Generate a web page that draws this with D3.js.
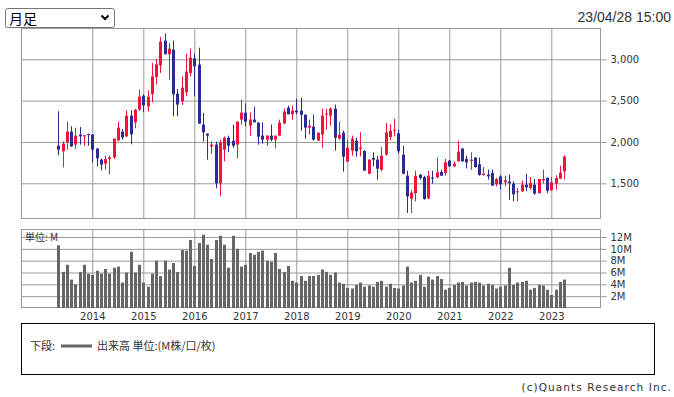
<!DOCTYPE html>
<meta charset="utf-8">

<head>
    <title>月足チャート</title>
    <script type="text/javascript" src="https://cdn.jsdelivr.net/npm/d3@7/dist/d3.min.js"></script>
    <style>
        body { margin: 0; background: #fff; }
        svg { display: block; }
        .num { font-family: "DejaVu Sans", Verdana, sans-serif; font-size: 10px; fill: #333; }
        .jp { font-family: "Noto Sans CJK JP", sans-serif; }
    </style>
</head>

<body>
    <svg id="chart"></svg>

    <script>

        // monthly candles, first one is 2013/05, last one 2023/04
        var firstYear = 2013, firstMonth = 5;

        var open = [
            1955, 1887, 1996, 2125, 1968, 2089, 2068, 2097,
            2089, 1919, 1786, 1738, 1794, 1814, 2020, 2125, 2068, 2318, 2238, 2391,
            2560, 2431, 2577, 2786, 2927, 3226, 3061, 3117, 2585, 2492, 2601, 2835,
            3012, 2936, 2210, 2101, 1947, 1968, 1500, 1907, 2052, 2016, 1968, 2270,
            2355, 2197, 2270, 2234, 2077, 2028, 2077, 2028, 2077, 2222, 2415, 2335,
            2379, 2379, 2331, 2173, 2185, 2016, 2089, 2331, 2318, 2403, 2040, 2113,
            1762, 1895, 2016, 1915, 1891, 1617, 1806, 1786, 1665, 1847, 2060, 2141,
            2105, 1847, 1592, 1314, 1379, 1605, 1576, 1318, 1568, 1572, 1637, 1625,
            1774, 1705, 1766, 1919, 1794, 1770, 1810, 1730, 1600, 1605, 1625, 1488,
            1584, 1512, 1520, 1496, 1395, 1403, 1484, 1443, 1484, 1379, 1536, 1568,
            1415, 1496, 1556, 1645
        ];
        var high = [
            2371, 2008, 2246, 2189, 2173, 2181, 2085, 2100,
            2097, 1927, 1798, 1834, 1834, 2040, 2246, 2157, 2383, 2383, 2399, 2633,
            2577, 2625, 2956, 3004, 3270, 3311, 3198, 3226, 2641, 2794, 3069, 3129,
            3069, 3141, 2351, 2101, 2004, 2004, 2028, 2068, 2077, 2210, 2246, 2512,
            2464, 2355, 2427, 2238, 2238, 2077, 2210, 2077, 2270, 2403, 2440, 2440,
            2524, 2536, 2331, 2270, 2331, 2113, 2403, 2403, 2415, 2452, 2246, 2137,
            2028, 2077, 2052, 2117, 1899, 1794, 1875, 1834, 1939, 2230, 2214, 2282,
            2149, 1955, 1653, 1420, 1653, 1610, 1592, 1653, 1653, 1810, 1665, 1794,
            1786, 1766, 2016, 1927, 1834, 1875, 1818, 1810, 1697, 1665, 1665, 1564,
            1600, 1592, 1605, 1524, 1443, 1532, 1617, 1576, 1552, 1552, 1665, 1568,
            1576, 1597, 1713, 1838
        ];
        var low = [
            1839, 1693, 1907, 1940, 1915, 1968, 1955, 1955,
            1754, 1705, 1657, 1669, 1609, 1794, 2008, 2028, 2060, 1972, 2165, 2375,
            2359, 2367, 2480, 2693, 2835, 3061, 2754, 2310, 2310, 2448, 2552, 2794,
            2552, 2222, 2004, 1786, 1859, 1439, 1343, 1766, 1875, 1931, 1802, 2210,
            2189, 2077, 2238, 1968, 1980, 1955, 2008, 1923, 2077, 2222, 2335, 2270,
            2335, 2137, 2040, 2089, 2016, 2016, 1931, 2149, 2197, 1895, 2028, 1641,
            1762, 1834, 1822, 1826, 1653, 1609, 1705, 1544, 1645, 1834, 2020, 2068,
            1859, 1609, 1141, 1141, 1282, 1544, 1302, 1310, 1496, 1564, 1592, 1592,
            1697, 1697, 1766, 1762, 1681, 1665, 1689, 1592, 1592, 1544, 1472, 1463,
            1423, 1463, 1302, 1282, 1282, 1395, 1403, 1423, 1363, 1379, 1500, 1383,
            1411, 1423, 1552, 1544
        ];
        var close = [
            1907, 1980, 2125, 1947, 2077, 2068, 2081, 2089,
            1907, 1802, 1726, 1794, 1814, 2040, 2173, 2056, 2318, 2093, 2391, 2548,
            2444, 2548, 2794, 2940, 3214, 3061, 3129, 2577, 2452, 2657, 2851, 3020,
            2915, 2222, 2117, 2077, 1968, 1500, 1996, 2052, 1955, 1955, 2246, 2355,
            2246, 2270, 2238, 2064, 2028, 2077, 2028, 2077, 2234, 2367, 2335, 2379,
            2359, 2331, 2173, 2197, 2028, 2113, 2318, 2343, 2403, 2052, 2089, 1822,
            1931, 2040, 1887, 1931, 1653, 1786, 1786, 1677, 1834, 2117, 2137, 2149,
            1887, 1617, 1342, 1387, 1592, 1564, 1310, 1592, 1560, 1633, 1592, 1754,
            1705, 1738, 1883, 1766, 1754, 1786, 1697, 1600, 1617, 1584, 1472, 1552,
            1488, 1536, 1500, 1367, 1403, 1484, 1451, 1504, 1375, 1552, 1552, 1411,
            1512, 1564, 1629, 1822
        ];
        // volume in millions
        var volume = [
            10.6, 6.1, 7.3, 4.8, 4.0, 6.1, 7.3, 5.8,
            5.6, 6.3, 5.8, 6.6, 5.8, 6.8, 7.0, 4.3, 6.0, 9.5, 6.0, 7.3,
            4.3, 3.6, 5.8, 8.0, 5.4, 8.0, 6.5, 7.6, 6.1, 9.8, 9.7, 11.5,
            7.1, 11.0, 12.4, 10.7, 8.3, 11.5, 12.2, 10.7, 6.8, 12.2, 10.0, 7.0,
            7.3, 9.3, 9.0, 9.5, 9.7, 8.0, 7.8, 9.3, 6.6, 6.1, 7.1, 4.6,
            4.3, 5.4, 4.6, 5.4, 5.4, 5.6, 6.5, 6.1, 5.6, 6.0, 4.3, 4.1,
            3.4, 3.3, 3.9, 4.3, 3.6, 3.8, 3.6, 4.4, 4.6, 3.6, 4.1, 3.4,
            3.3, 3.8, 7.0, 4.3, 4.6, 5.6, 3.6, 5.3, 4.8, 5.4, 4.9, 3.1,
            3.4, 3.9, 4.3, 4.4, 3.8, 4.3, 4.4, 4.3, 3.8, 4.1, 3.9, 3.3,
            3.6, 3.8, 6.8, 3.9, 4.3, 4.4, 4.6, 3.1, 3.4, 3.9, 3.8, 3.1,
            2.2, 3.1, 4.4, 4.8
        ];

        var years = [2014, 2015, 2016, 2017, 2018, 2019, 2020, 2021, 2022, 2023];
        var priceTicks = [1500, 2000, 2500, 3000];
        var volumeTicks = [2, 4, 6, 8, 10, 12];

        w = 674;
        h = 397;

        var svg = d3.select("#chart")
            .attr("width", w)
            .attr("height", h);

        // panel boxes
        var left = 21.5, right = 600.5;
        var pTop = 28.5, pBottom = 218.5;
        var vTop = 229.5, vBottom = 307.5;

        // month index counted from 2014/01
        function monthIdx(i) {
            return (firstYear - 2014) * 12 + (firstMonth - 1) + i;
        }

        var x = d3.scaleLinear()
            .domain([0, 108])
            .range([92.3, 551.3]);

        var y = d3.scaleLinear()
            .domain([1500, 3000])
            .range([183.3, 59.3]);

        var yv = d3.scaleLinear()
            .domain([0, 12])
            .range([308, 237]);

        var upColor = "#f0143c";
        var downColor = "#2b2b96";
        var gridColor = "#999999";

        // top bar: period select and timestamp
        svg.append("rect")
            .attr("x", 5.5).attr("y", 8.5)
            .attr("width", 109).attr("height", 19)
            .attr("rx", 2)
            .attr("fill", "#fff")
            .attr("stroke", "#767676");
        svg.append("text")
            .attr("class", "jp")
            .attr("x", 9).attr("y", 23.5)
            .style("font-size", "14px")
            .attr("fill", "#000")
            .text("月足");
        svg.append("path")
            .attr("d", "M101.5,15.5 L105,19 L108.5,15.5")
            .attr("fill", "none")
            .attr("stroke", "#000")
            .attr("stroke-width", 2);

        svg.append("text")
            .attr("x", 671).attr("y", 22)
            .attr("text-anchor", "end")
            .style("font-family", "'Liberation Sans', Arial, sans-serif")
            .style("font-size", "14px")
            .attr("fill", "#333")
            .text("23/04/28 15:00");

        // grids
        function gridLines(g) {
            g.selectAll("line").attr("stroke", gridColor);
            g.select(".domain").remove();
            g.selectAll("text").remove();
        }

        svg.append("g")
            .attr("transform", "translate(" + left + ",0)")
            .call(d3.axisLeft(y).tickValues(priceTicks).tickSize(-(right - left)).tickFormat(""))
            .call(gridLines);

        svg.append("g")
            .attr("transform", "translate(0," + pTop + ")")
            .call(d3.axisBottom(x).tickValues(years.map(function (d) { return (d - 2014) * 12; }))
                .tickSize(pBottom - pTop).tickFormat(""))
            .call(gridLines);

        svg.append("g")
            .attr("transform", "translate(" + left + ",0)")
            .call(d3.axisLeft(yv).tickValues(volumeTicks).tickSize(-(right - left)).tickFormat(""))
            .call(gridLines);

        svg.append("g")
            .attr("transform", "translate(0," + vTop + ")")
            .call(d3.axisBottom(x).tickValues(years.map(function (d) { return (d - 2014) * 12; }))
                .tickSize(vBottom - vTop).tickFormat(""))
            .call(gridLines);

        // right axes
        function rightAxis(g) {
            g.select(".domain").remove();
            g.selectAll("line").attr("stroke", gridColor);
            g.selectAll("text").attr("class", "num").attr("fill", null);
        }

        svg.append("g")
            .attr("transform", "translate(" + right + ",0)")
            .call(d3.axisRight(y).tickValues(priceTicks).tickSize(6).tickPadding(4).tickFormat(d3.format(",")))
            .call(rightAxis);

        svg.append("g")
            .attr("transform", "translate(" + right + ",0)")
            .call(d3.axisRight(yv).tickValues(volumeTicks).tickSize(6).tickPadding(4).tickFormat(function (d) { return d + "M"; }))
            .call(rightAxis);

        // year labels
        svg.append("g")
            .attr("transform", "translate(0," + vBottom + ")")
            .call(d3.axisBottom(x).tickValues(years.map(function (d) { return (d - 2014) * 12; }))
                .tickSize(0).tickPadding(5).tickFormat(function (d, i) { return years[i]; }))
            .call(function (g) {
                g.select(".domain").remove();
                g.selectAll("text").attr("class", "num").attr("fill", null);
            });

        // panel borders
        svg.append("rect")
            .attr("x", left).attr("y", pTop)
            .attr("width", right - left).attr("height", pBottom - pTop)
            .attr("fill", "none").attr("stroke", gridColor);
        svg.append("rect")
            .attr("x", left).attr("y", vTop)
            .attr("width", right - left).attr("height", vBottom - vTop)
            .attr("fill", "none").attr("stroke", gridColor);

        var idx = d3.range(open.length);

        // candles
        var candles = svg.append("g").attr("id", "candles");

        candles.selectAll("line")
            .data(idx)
            .enter().append("line")
            .attr("x1", function (i) { return Math.round(x(monthIdx(i))) + 0.5; })
            .attr("x2", function (i) { return Math.round(x(monthIdx(i))) + 0.5; })
            .attr("y1", function (i) { return y(high[i]); })
            .attr("y2", function (i) { return y(low[i]); })
            .attr("stroke", function (i) { return close[i] >= open[i] ? upColor : downColor; })
            .attr("stroke-width", 1);

        candles.selectAll("rect")
            .data(idx)
            .enter().append("rect")
            .attr("x", function (i) { return Math.round(x(monthIdx(i))) - 1; })
            .attr("width", 3)
            .attr("y", function (i) { return y(Math.max(open[i], close[i])); })
            .attr("height", function (i) { return Math.max(1, Math.abs(y(open[i]) - y(close[i]))); })
            .attr("fill", function (i) { return close[i] >= open[i] ? upColor : downColor; });

        // volume bars
        svg.append("g")
            .attr("id", "volume")
            .selectAll("rect")
            .data(idx)
            .enter().append("rect")
            .attr("x", function (i) { return Math.round(x(monthIdx(i))) - 1; })
            .attr("width", 3)
            .attr("y", function (i) { return yv(volume[i]); })
            .attr("height", function (i) { return yv(0) - yv(volume[i]); })
            .attr("fill", "#666666");

        svg.append("text")
            .attr("class", "jp")
            .attr("x", 25).attr("y", 241)
            .style("font-size", "10px")
            .attr("fill", "#333")
            .text("単位: M");

        // legend box
        svg.append("rect")
            .attr("x", 21.5).attr("y", 323.5)
            .attr("width", 633).attr("height", 51)
            .attr("fill", "none")
            .attr("stroke", "#000");
        svg.append("text")
            .attr("class", "jp")
            .attr("x", 30).attr("y", 350)
            .style("font-size", "11px")
            .attr("fill", "#333")
            .text("下段:");
        svg.append("line")
            .attr("x1", 61).attr("x2", 92)
            .attr("y1", 346).attr("y2", 346)
            .attr("stroke", "#666")
            .attr("stroke-width", 3);
        svg.append("text")
            .attr("class", "jp")
            .attr("x", 97).attr("y", 350)
            .style("font-size", "11px")
            .attr("fill", "#333")
            .text("出来高 単位:(M株/口/枚)");

        svg.append("text")
            .attr("class", "num")
            .attr("x", 672).attr("y", 391)
            .attr("text-anchor", "end")
            .style("font-size", "10.5px")
            .style("letter-spacing", "1.1px")
            .text("(c)Quants Research Inc.");

    </script>

</body>

</html>
